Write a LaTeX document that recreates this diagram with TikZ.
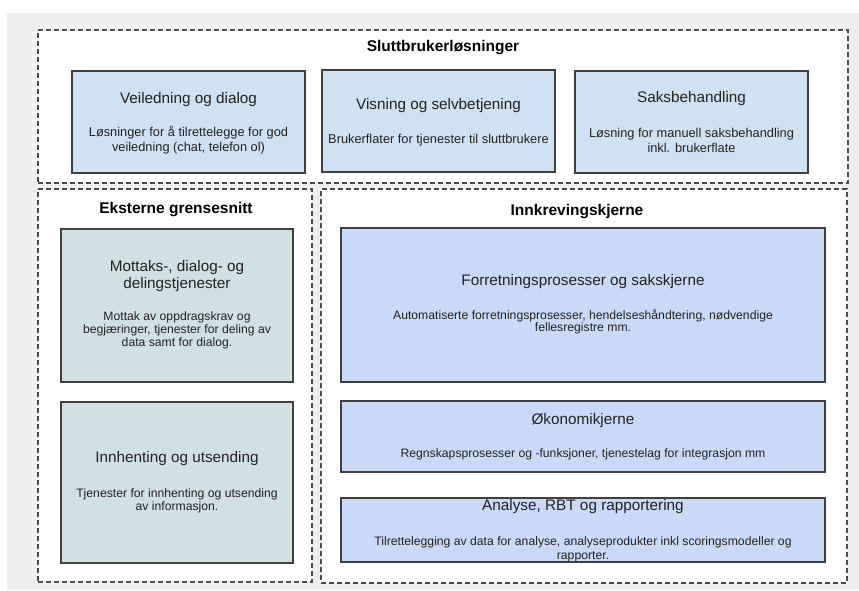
\documentclass[tikz,border=0pt]{standalone}
\usepackage{fontspec}
\setmainfont{Liberation Sans}
\usetikzlibrary{fit}
\definecolor{pagegray}{HTML}{EFEFEF}
\definecolor{lightblue}{HTML}{CFE2F3}
\definecolor{lightcyan}{HTML}{D0E0E3}
\definecolor{cornflower}{HTML}{C9DAF8}
\definecolor{edgegray}{HTML}{404040}
\definecolor{dashgray}{HTML}{4A4A4A}
\definecolor{inktext}{HTML}{222222}
\begin{document}
\begin{tikzpicture}[x=1pt,y=-1pt,
  group/.style={draw=dashgray, fill=white, line width=1.1pt,
    dash pattern=on 5pt off 3pt, inner sep=0pt},
  card/.style={draw=edgegray, line width=1.2pt, inner sep=0pt},
  header/.style={font=\bfseries\fontsize{15.5}{18}\selectfont, text=black, inner sep=0pt},
  ctitle/.style={font=\fontsize{15.3}{17}\selectfont, text=inktext, inner sep=0pt, align=center},
  cdesc/.style={font=\fontsize{12.5}{14}\selectfont, text=inktext, inner sep=0pt, align=center}]
\useasboundingbox (0,0) rectangle (859,590);
\fill[pagegray] (7,13) rectangle (859,590);

% dashed groups
\node[group, fit={(38,30) (848,183)}] (slutt) {};
\node[group, fit={(38,189) (312,582)}] (ekst) {};
\node[group, fit={(321,189) (847,583)}] (innk) {};

\node[header] (sluttH) at (443,48) {Sluttbrukerløsninger};
\node[header] (ekstH) at (176,210) {Eksterne grensesnitt};
\node[header] (innkH) at (577,212) {Innkrevingskjerne};

% end-user solutions
\node[card, fill=lightblue, fit={(72,71) (305,173)}] (veil) {};
\node[ctitle] (veilT) at (188.5,100) {Veiledning og dialog};
\node[cdesc, font=\fontsize{12.8}{15}\selectfont] (veilD) at (188.5,140.5)
  {Løsninger for å tilrettelegge for god\\veiledning (chat, telefon ol)};

\node[card, fill=lightblue, fit={(322,70) (555,172)}] (visn) {};
\node[ctitle] (visnT) at (438.5,106) {Visning og selvbetjening};
\node[cdesc, font=\fontsize{12.8}{15}\selectfont] (visnD) at (438.5,140)
  {Brukerflater for tjenester til sluttbrukere};

\node[card, fill=lightblue, fit={(575,71) (808,173)}] (saks) {};
\node[ctitle] (saksT) at (691.5,99) {Saksbehandling};
\node[cdesc, font=\fontsize{12.8}{15}\selectfont] (saksD) at (691.5,140.5)
  {Løsning for manuell saksbehandling\\inkl. brukerflate};

% external interfaces
\node[card, fill=lightcyan, fit={(61,229) (293,382)}] (mott) {};
\node[ctitle, font=\fontsize{15.3}{16.5}\selectfont] (mottT) at (177,276)
  {Mottaks-, dialog- og\\delingstjenester};
\node[cdesc, font=\fontsize{12.2}{12.8}\selectfont] (mottD) at (177,330.5)
  {Mottak av oppdragskrav og\\begjæringer, tjenester for deling av\\data samt for dialog.};

\node[card, fill=lightcyan, fit={(61,402) (293,563)}] (innh) {};
\node[ctitle] (innhT) at (177,459) {Innhenting og utsending};
\node[cdesc, font=\fontsize{12.2}{13}\selectfont] (innhD) at (177,500.5)
  {Tjenester for innhenting og utsending\\av informasjon.};

% collection core
\node[card, fill=cornflower, fit={(341,228) (825,382)}] (forr) {};
\node[ctitle] (forrT) at (583,282) {Forretningsprosesser og sakskjerne};
\node[cdesc, font=\fontsize{12.2}{12.5}\selectfont] (forrD) at (583,322)
  {Automatiserte forretningsprosesser, hendelseshåndtering, nødvendige\\fellesregistre mm.};

\node[card, fill=cornflower, fit={(341,401) (825,472)}] (okon) {};
\node[ctitle] (okonT) at (583,421) {Økonomikjerne};
\node[cdesc, font=\fontsize{12.2}{13}\selectfont] (okonD) at (583,454)
  {Regnskapsprosesser og -funksjoner, tjenestelag for integrasjon mm};

\node[card, fill=cornflower, fit={(341,498) (825,562)}] (anal) {};
\node[ctitle] (analT) at (583,507) {Analyse, RBT og rapportering};
\node[cdesc, font=\fontsize{12.2}{14}\selectfont] (analD) at (583,549)
  {Tilrettelegging av data for analyse, analyseprodukter inkl scoringsmodeller og\\rapporter.};
\end{tikzpicture}
\end{document}
